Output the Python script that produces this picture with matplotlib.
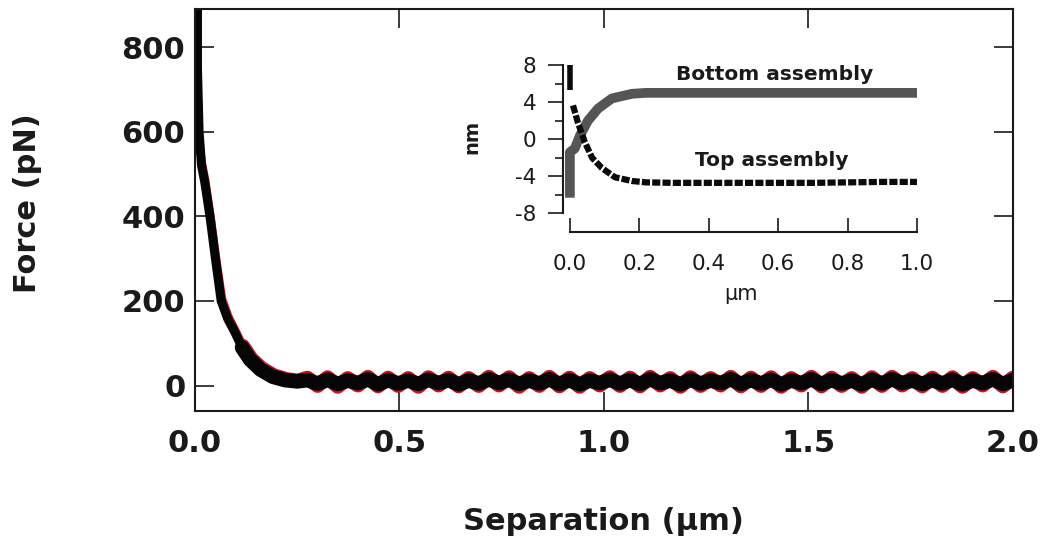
import numpy as np
import matplotlib
matplotlib.use('Agg')
import matplotlib.pyplot as plt
from matplotlib.ticker import FixedLocator

plt.rcParams['font.family'] = ['DejaVu Sans']
plt.rcParams['axes.unicode_minus'] = False

# ---------------- main force curve ----------------
approach_sep_black = [0.006, 0.006, 0.010, 0.016, 0.024, 0.037, 0.050, 0.064, 0.080,
                      0.098, 0.115, 0.135, 0.160, 0.190, 0.220, 0.250]
approach_force_black = [900, 750, 600, 520, 480, 397, 300, 200, 158,
                        125, 90, 61, 38, 21, 13, 10]
approach_sep_red = [0.0, 0.0, 0.008, 0.017, 0.025, 0.038, 0.051, 0.066, 0.082,
                    0.100, 0.117, 0.137, 0.162, 0.192, 0.222, 0.250]
approach_force_red = [885, 650, 590, 525, 485, 400, 305, 205, 162,
                      128, 93, 64, 41, 24, 15, 11]

baseline_black = [13, 5, 14, 4, 12, 6, 15, 3, 13, 5,
                  12, 4, 14, 6, 13, 3, 12, 5, 15, 6,
                  14, 4, 12, 5, 15, 4, 13, 3, 12, 6,
                  14, 5, 13, 4, 15, 6, 12, 3, 14, 5,
                  12, 6, 15, 4, 13, 5, 14, 3, 12, 6,
                  15, 4, 13, 5, 12, 3, 14, 5, 15, 6,
                  12, 4, 13, 5, 14, 3, 12, 6, 15, 4, 13]
baseline_red = [18, 0, 19, -2, 17, 1, 20, -1, 18, 0,
                17, -2, 19, 1, 18, -1, 17, 0, 20, 1,
                19, -2, 17, 0, 20, -1, 18, -2, 17, 1,
                19, 0, 18, -1, 20, 1, 17, -2, 19, 0,
                17, 1, 20, -1, 18, 0, 19, -2, 17, 1,
                20, -1, 18, 0, 17, -2, 19, 0, 20, 1,
                17, -1, 18, 0, 19, -2, 17, 1, 20, -1, 18]
baseline_start, baseline_end = 0.275, 2.0

# ---------------- inset: bottom / top assembly (nm vs um) ----------------
bottom_x = [0.0, 0.0, 0.014, 0.029, 0.052, 0.081, 0.121, 0.179, 0.22,
            0.30, 0.40, 0.50, 0.60, 0.70, 0.80, 0.90, 1.0]
bottom_y = [-6.3, -1.4, -1.0, 0.4, 2.0, 3.3, 4.4, 4.9, 5.0,
            5.0, 5.0, 5.0, 5.0, 5.0, 5.0, 5.0, 5.0]

top_bar_x = [0.0, 0.0]
top_bar_y = [8.0, 5.3]
top_x = [0.009, 0.023, 0.043, 0.064, 0.092, 0.13, 0.179, 0.22,
         0.30, 0.40, 0.50, 0.60, 0.70, 0.80, 0.90, 1.0]
top_y = [3.65, 1.8, -0.3, -2.0, -3.1, -4.1, -4.5, -4.65,
         -4.7, -4.7, -4.7, -4.7, -4.7, -4.65, -4.6, -4.6]

main_xticks = [0.0, 0.5, 1.0, 1.5, 2.0]
main_yticks = [0, 200, 400, 600, 800]
inset_xticks = [0.0, 0.2, 0.4, 0.6, 0.8, 1.0]
inset_yticks = [-8, -4, 0, 4, 8]
inset_yminor = [-6, -2, 2, 6]

# ---------------- figure ----------------
fig = plt.figure(figsize=(10.4, 5.44), dpi=100)
ax = fig.add_axes([0.1875, 0.2445, 0.7865, 0.739])

base_x = np.linspace(baseline_start, baseline_end, len(baseline_black))
base_x_red = np.linspace(baseline_start, baseline_end, len(baseline_red))

n_tail = 6  # last approach points drawn with the thicker (noisy) stroke

# red trace (underneath)
ax.plot(approach_sep_red, approach_force_red, color='#c8141e', lw=6.0,
        solid_joinstyle='round', solid_capstyle='round')
ax.plot(np.concatenate([approach_sep_red[-n_tail:], base_x_red]),
        np.concatenate([approach_force_red[-n_tail:], baseline_red]),
        color='#c8141e', lw=10.5, solid_joinstyle='round', solid_capstyle='round')
# black trace
ax.plot(approach_sep_black, approach_force_black, color='#050505', lw=6.5,
        solid_joinstyle='round', solid_capstyle='round')
ax.plot(np.concatenate([approach_sep_black[-n_tail:], base_x]),
        np.concatenate([approach_force_black[-n_tail:], baseline_black]),
        color='#050505', lw=10.5, solid_joinstyle='round', solid_capstyle='round')

ax.set_xlim(0, 2.0)
ax.set_ylim(-60, 890)
ax.set_xticks(main_xticks)
ax.set_xticklabels([f'{v:.1f}' for v in main_xticks])
ax.set_yticks(main_yticks)
ax.set_yticklabels([str(v) for v in main_yticks])
ax.tick_params(axis='both', which='major', direction='in', length=13.5, width=1.2,
               colors='#1a1a1a', labelsize=22, top=True, right=True)
ax.tick_params(axis='x', pad=13)
ax.tick_params(axis='y', pad=7)
for lab in ax.get_xticklabels() + ax.get_yticklabels():
    lab.set_fontweight('bold')
for sp in ax.spines.values():
    sp.set_linewidth(1.5)
    sp.set_color('#1a1a1a')
    sp.set_zorder(3)

fig.text(28 / 1040, 1 - 203 / 544, 'Force (pN)', rotation=90, ha='center', va='center',
         fontsize=22, fontweight='bold', color='#1a1a1a')
fig.text(603 / 1040, 1 - 521 / 544, 'Separation (µm)', ha='center', va='center',
         fontsize=22, fontweight='bold', color='#1a1a1a')

# ---------------- inset ----------------
ins = fig.add_axes([0.5413, 0.5735, 0.3404, 0.3155])
ins.set_facecolor('none')
ins.plot(bottom_x, bottom_y, color='#555555', lw=7, solid_capstyle='butt',
         solid_joinstyle='round')
ins.plot(top_bar_x, top_bar_y, color='#0a0a0a', lw=4.0, solid_capstyle='butt')
ins.plot(top_x, top_y, color='#0a0a0a', lw=4.5, linestyle=(0, (1.3, 0.35)),
         dash_capstyle='butt')
ins.set_xlim(-0.02, 1.0)
ins.set_ylim(-10, 8.5)
ins.spines['top'].set_visible(False)
ins.spines['right'].set_visible(False)
ins.spines['left'].set_bounds(-8, 8)
ins.spines['bottom'].set_bounds(0, 1)
for sp in ('left', 'bottom'):
    ins.spines[sp].set_linewidth(1.5)
    ins.spines[sp].set_color('#1a1a1a')
ins.set_xticks(inset_xticks)
ins.set_xticklabels([f'{v:.1f}' for v in inset_xticks])
ins.set_yticks(inset_yticks)
ins.set_yticklabels([str(v) for v in inset_yticks])
ins.yaxis.set_minor_locator(FixedLocator(inset_yminor))
ins.tick_params(axis='y', which='major', direction='out', length=11, width=1.2,
                labelsize=15.5, pad=8, colors='#1a1a1a')
ins.tick_params(axis='y', which='minor', direction='out', length=6, width=1.2,
                colors='#1a1a1a')
ins.tick_params(axis='x', which='major', direction='in', length=10, width=1.2,
                labelsize=15.5, pad=16, colors='#1a1a1a')
ins.text(0.589, 7.0, 'Bottom assembly', ha='center', va='center', fontsize=14.5,
         fontweight='bold', color='#1a1a1a')
ins.text(0.581, -2.25, 'Top assembly', ha='center', va='center', fontsize=14.5,
         fontweight='bold', color='#1a1a1a')
fig.text(472 / 1040, 1 - 137 / 544, 'nm', rotation=90, ha='center', va='center',
         fontsize=14, fontweight='bold', color='#1a1a1a')
fig.text(741 / 1040, 1 - 294 / 544, 'µm', ha='center', va='center',
         fontsize=15, color='#1a1a1a')

fig.savefig('out.png', dpi=100)
